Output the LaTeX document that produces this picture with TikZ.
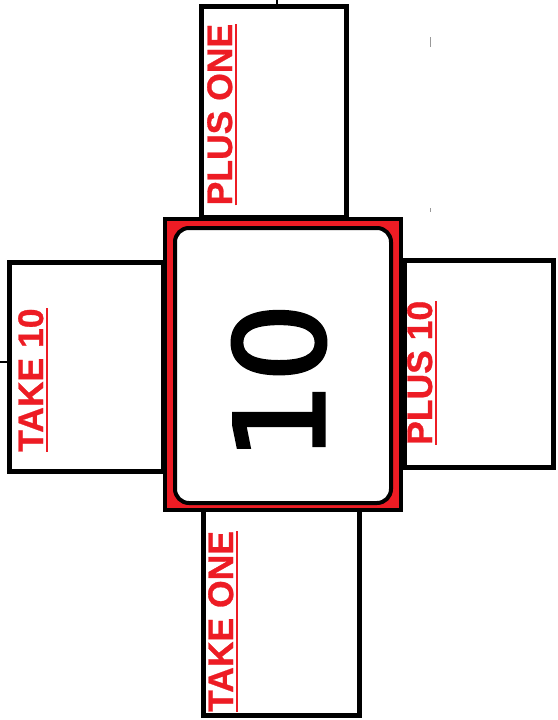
\documentclass[tikz,border=0pt]{standalone}
\usepackage{fontspec}
\setmainfont{Liberation Sans}
\newfontfamily\numfont[FakeBold=2.5]{DejaVu Sans}
\newfontfamily\lblfont[FakeBold=0.8]{Liberation Sans Bold}
\definecolor{lblred}{RGB}{237,28,36}
\newcommand\myul[1]{\leavevmode\setbox0\hbox{#1}\rlap{\rule[-5pt]{\wd0}{2pt}}\box0}
\begin{document}
\begin{tikzpicture}[x=1pt,y=-1pt,
  sidebox/.style={draw=black, line width=4.5pt, fill=white, rectangle, inner sep=0pt},
  lbl/.style={text=lblred, font=\lblfont\fontsize{35.5}{36}\selectfont, rotate=90, anchor=base west, inner sep=0pt},
  tick/.style={line width=2pt, black},
  faint/.style={line width=1pt, black!40}]
\useasboundingbox (0,0) rectangle (557,720);
\fill[white] (0,0) rectangle (557,720);
% side boxes
\node[sidebox, minimum width=145pt, minimum height=210.5pt] (top) at (274,111.75) {};
\node[sidebox, minimum width=155pt, minimum height=209pt] (left) at (87,367) {};
\node[sidebox, minimum width=149pt, minimum height=207pt] (right) at (479,364) {};
\node[sidebox, minimum width=156pt, minimum height=205.5pt] (bottom) at (281.5,612.75) {};
% thicker left edge of the centre piece
\fill[black] (161,260) rectangle (170,474);
% centre piece
\node[draw=black, line width=4pt, fill=lblred, rectangle, inner sep=0pt,
      minimum width=236pt, minimum height=291pt] (centre) at (283,364.5) {};
\node[draw=black, line width=4pt, fill=white, rectangle, rounded corners=14pt, inner sep=0pt,
      minimum width=216pt, minimum height=275pt] (inner) at (283,365.5) {};
\node[font=\numfont\fontsize{124}{124}\selectfont, rotate=90, inner sep=0pt] (num) at (279,382) {10};
% labels
\node[lbl] (plusone) at (232,205.5) {\myul{PLUS ONE}};
\node[lbl] (take10) at (43,452) {\myul{TAKE 10}};
\node[lbl] (plus10) at (432,445) {\myul{PLUS 10}};
\node[lbl] (takeone) at (233,712) {\myul{TAKE ONE}};
% small marks
\coordinate (t1) at (277,0);
\draw[tick] (t1) -- (top.north -| t1);
\coordinate (t2) at (0,362);
\draw[tick] (t2) -- (left.west |- t2);
\coordinate (f1) at (430,37);
\coordinate (f2) at (430,47);
\draw[faint] (f1) -- (f2);
\coordinate (f3) at (430,208);
\coordinate (f4) at (430,212);
\draw[faint] (f3) -- (f4);
\end{tikzpicture}
\end{document}
